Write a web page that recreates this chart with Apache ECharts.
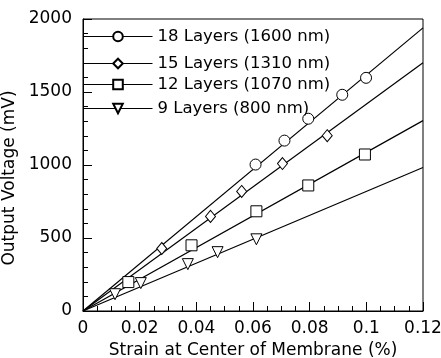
<!DOCTYPE html>
<html>
<head>
<meta charset="utf-8">
<script src="https://cdn.jsdelivr.net/npm/echarts@6/dist/echarts.min.js"></script>
<style>
  html, body { margin: 0; padding: 0; background: #fff; }
  #chart { width: 441px; height: 358px; }
</style>
</head>
<body>
<div id="chart"></div>
<script>
// measured points, strain (%) vs output voltage (mV)
var names = ['18 Layers (1600 nm)', '15 Layers (1310 nm)', '12 Layers (1070 nm)', '9 Layers (800 nm)'];
var pts18 = [[0.0609, 1003], [0.0711, 1167], [0.0795, 1317], [0.0915, 1481], [0.0999, 1597]];
var pts15 = [[0.0278, 428], [0.0450, 648], [0.0560, 819], [0.0704, 1010], [0.0862, 1201]];
var pts12 = [[0.0160, 198], [0.0383, 450], [0.0612, 683], [0.0795, 860], [0.0995, 1072]];
var pts9 = [[0.0113, 115], [0.0204, 191], [0.0370, 321], [0.0475, 403], [0.0612, 491]];
// linear fits through origin, value at strain 0.12
var fitEnd = [1939, 1700, 1304, 983];
var xTicks = [0, 0.02, 0.04, 0.06, 0.08, 0.1, 0.12];

var FONT = 'DejaVu Sans';
var allPts = [pts18, pts15, pts12, pts9];
var symbols = ['circle', 'diamond', 'rect', 'triangle'];
var sizes = [11, [10, 12], 11, 11];
var rotates = [0, 0, 0, 180];
var legendTops = [28, 55, 76, 100];

var series = [];
for (var i = 0; i < 4; i++) {
    series.push({
        type: 'line', name: 'fit' + i, silent: true, showSymbol: false,
        data: [[0, 0], [xTicks[xTicks.length - 1], fitEnd[i]]],
        lineStyle: { color: '#000', width: 1.2 }, z: 2
    });
}
for (var i = 0; i < 4; i++) {
    series.push({
        type: 'line', name: names[i], data: allPts[i],
        symbol: symbols[i], symbolSize: sizes[i], symbolRotate: rotates[i],
        showAllSymbol: true,
        lineStyle: { width: 0, opacity: 0 },
        itemStyle: { color: '#fff', borderColor: '#000', borderWidth: 1 },
        z: 3
    });
}

var legends = [];
for (var i = 0; i < 4; i++) {
    legends.push({
        data: [names[i]], left: 83, top: legendTops[i], padding: 0,
        itemWidth: 69, itemHeight: 12, itemGap: 0, selectedMode: false,
        lineStyle: { color: '#000', width: 1, opacity: 1 },
        textStyle: { fontFamily: FONT, fontSize: 16.5, color: '#000' }
    });
}

var tickLen = 9, minorLen = 5;

var option = {
    animation: false,
    backgroundColor: '#fff',
    legend: legends,
    // the grid border gives the closed frame
    grid: { left: 83, right: 18, top: 19, bottom: 47, outerBoundsMode: 'none',
        show: true, borderColor: '#000', borderWidth: 1 },
    xAxis: {
        type: 'value', min: 0, max: 0.12, interval: 0.02,
        axisLine: { lineStyle: { color: '#000', width: 1 } },
        axisTick: { inside: true, length: tickLen, lineStyle: { color: '#000' } },
        minorTick: { show: true, splitNumber: 4, length: minorLen, lineStyle: { color: '#000' } },
        splitLine: { show: false },
        name: 'Strain at Center of Membrane (%)', nameLocation: 'middle', nameGap: 26,
        nameTextStyle: { fontFamily: FONT, fontSize: 17, color: '#000' },
        axisLabel: { fontFamily: FONT, fontSize: 17, color: '#000', margin: 9,
            formatter: function (v) { return String(parseFloat(v.toFixed(2))); } }
    },
    yAxis: {
        type: 'value', min: 0, max: 2000, interval: 500,
        axisLine: { lineStyle: { color: '#000', width: 1 } },
        axisTick: { inside: true, length: tickLen, lineStyle: { color: '#000' } },
        minorTick: { show: true, splitNumber: 5, length: minorLen, lineStyle: { color: '#000' } },
        splitLine: { show: false },
        name: 'Output Voltage (mV)', nameLocation: 'middle', nameGap: 57,
        nameTextStyle: { fontFamily: FONT, fontSize: 17, color: '#000', padding: [0, 26, 0, 0] },
        axisLabel: { fontFamily: FONT, fontSize: 17, color: '#000', margin: 11,
            formatter: function (v) { return String(v); } }
    },
    series: series
};

var chart = echarts.init(document.getElementById('chart'));
chart.setOption(option);
</script>
</body>
</html>
